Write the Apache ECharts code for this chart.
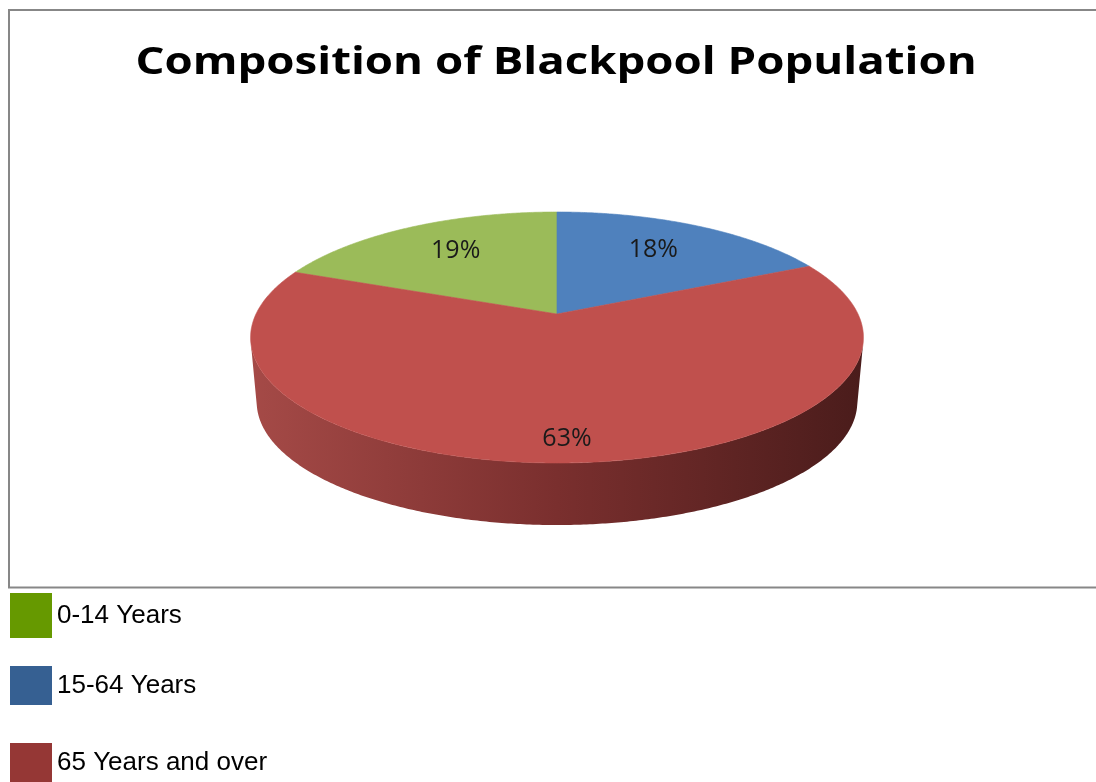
<!DOCTYPE html>
<html><head><meta charset="utf-8">
<script src="https://cdn.jsdelivr.net/npm/echarts@6/dist/echarts.min.js"></script>
<style>html,body{margin:0;padding:0;background:#fff}#chart{width:1096px;height:782px}</style>
</head><body><div id="chart"></div>
<script>
// ---- data ----
const categories = ['0-14 Years', '15-64 Years', '65 Years and over'];
const values = [19, 18, 63];
const titleText = 'Composition of Blackpool Population';

// ---- style ----
const topColors = ['#9BBB59', '#4F81BD', '#C0504D'];
const legendColors = ['#669900', '#366092', '#953735'];
const sideStops = [
  ['#7E9A44', '#5F7433', '#3C4920'],
  ['#3F6A9D', '#2F5075', '#1E324A'],
  ['#A54A47', '#7A2F2E', '#4A1C1B']
];
const legendTops = [593, 666, 743];
const legendHeights = [45, 39, 39];
const G = { cx: 557, cy: 314, a: 301, b: 121.1, k: 0.1873, bottomCy: 379, bottomScale: 0.98, firstAngle: 291.6 };

const total = values.reduce((s, v) => s + v, 0);
const rad = d => d * Math.PI / 180;

function proj(deg, level, f) {
  if (f == null) f = 1;
  const t = rad(deg);
  const u = Math.sin(t) * f, v = -Math.cos(t) * f;
  const d = 1 - G.k * v;
  const s = level ? G.bottomScale : 1;
  const oy = level ? G.bottomCy : G.cy;
  return [G.cx + s * G.a * u / d, oy + s * G.b * v / d];
}
function crossAt(deg) {
  const p0 = proj(deg - 0.05, 0), p1 = proj(deg + 0.05, 0);
  const t = [p1[0] - p0[0], p1[1] - p0[1]];
  const top = proj(deg, 0), bot = proj(deg, 1);
  const g = [bot[0] - top[0], bot[1] - top[1]];
  return t[0] * g[1] - t[1] * g[0];
}
function findRoot(lo, hi) {
  let prev = crossAt(lo);
  for (let d = lo + 0.1; d <= hi; d += 0.1) {
    const c = crossAt(d);
    if ((c > 0) !== (prev > 0)) return d;
    prev = c;
  }
  return lo;
}
const silR = findRoot(60, 150), silL = findRoot(210, 300);

function arcPoints(s, e, level) {
  const pts = [];
  const n = Math.max(1, Math.ceil((e - s) / 0.5));
  for (let m = 0; m <= n; m++) pts.push(proj(s + (e - s) * m / n, level));
  return pts;
}

function renderSlice(params, api) {
  const i = params.seriesIndex;
  let before = 0;
  for (let j = 0; j < i; j++) before += values[j];
  const start = G.firstAngle + before / total * 360;
  const end = start + api.value(0) / total * 360;
  const children = [];
  for (const shift of [-360, 0, 360]) {
    const s = Math.max(start + shift, silR), e = Math.min(end + shift, silL);
    if (e > s) {
      const pts = arcPoints(s, e, 0).concat(arcPoints(s, e, 1).reverse());
      children.push({
        type: 'polygon', z2: 1, shape: { points: pts },
        style: { fill: { type: 'linear', x: G.cx - G.a * 1.02, y: 0, x2: G.cx + G.a * 1.02, y2: 0, global: true,
          colorStops: [{ offset: 0, color: sideStops[i][0] }, { offset: 0.5, color: sideStops[i][1] }, { offset: 1, color: sideStops[i][2] }] } }
      });
    }
  }
  const tp = [[G.cx, G.cy]].concat(arcPoints(start, end, 0));
  children.push({ type: 'polygon', z2: 2, shape: { points: tp }, style: { fill: topColors[i], stroke: topColors[i], lineWidth: 0.6 } });
  const mid = (start + end) / 2;
  const vm = -Math.cos(rad(mid));
  const f = 0.66 + 0.22 * Math.max(0, vm);
  const lp = proj(mid, 0, f);
  children.push({ type: 'text', z2: 3, style: {
    text: Math.round(api.value(0) / total * 100) + '%', x: lp[0], y: lp[1] - 3,
    align: 'center', verticalAlign: 'middle', font: '25px "Open Sans"', fill: '#1a1a1a' } });
  return { type: 'group', children };
}

const chart = echarts.init(document.getElementById('chart'), null, { renderer: 'canvas' });
chart.setOption({
  backgroundColor: '#fff',
  animation: false,
  graphic: [{
    type: 'rect', silent: true, z: -1,
    shape: { x: 9, y: 10, width: 1200, height: 577.5 },
    style: { fill: 'none', stroke: '#878787', lineWidth: 2 }
  }, {
    type: 'text', silent: true, x: 556, y: 63, scaleX: 1.2,
    style: { text: titleText, font: 'bold 38px "Open Sans"', align: 'center', verticalAlign: 'middle', fill: '#000' }
  }],
  legend: categories.map((c, i) => ({
    data: [c], left: 10, top: legendTops[i], padding: 0, itemGap: 0, icon: 'rect',
    itemWidth: 42, itemHeight: legendHeights[i], selectedMode: false,
    textStyle: { fontFamily: 'Liberation Sans', fontSize: 26, color: '#000' }
  })),
  series: categories.map((c, i) => ({
    type: 'custom', name: c, coordinateSystem: 'none', silent: true,
    itemStyle: { color: legendColors[i] },
    data: [[values[i]]],
    renderItem: renderSlice
  }))
});
</script></body></html>
